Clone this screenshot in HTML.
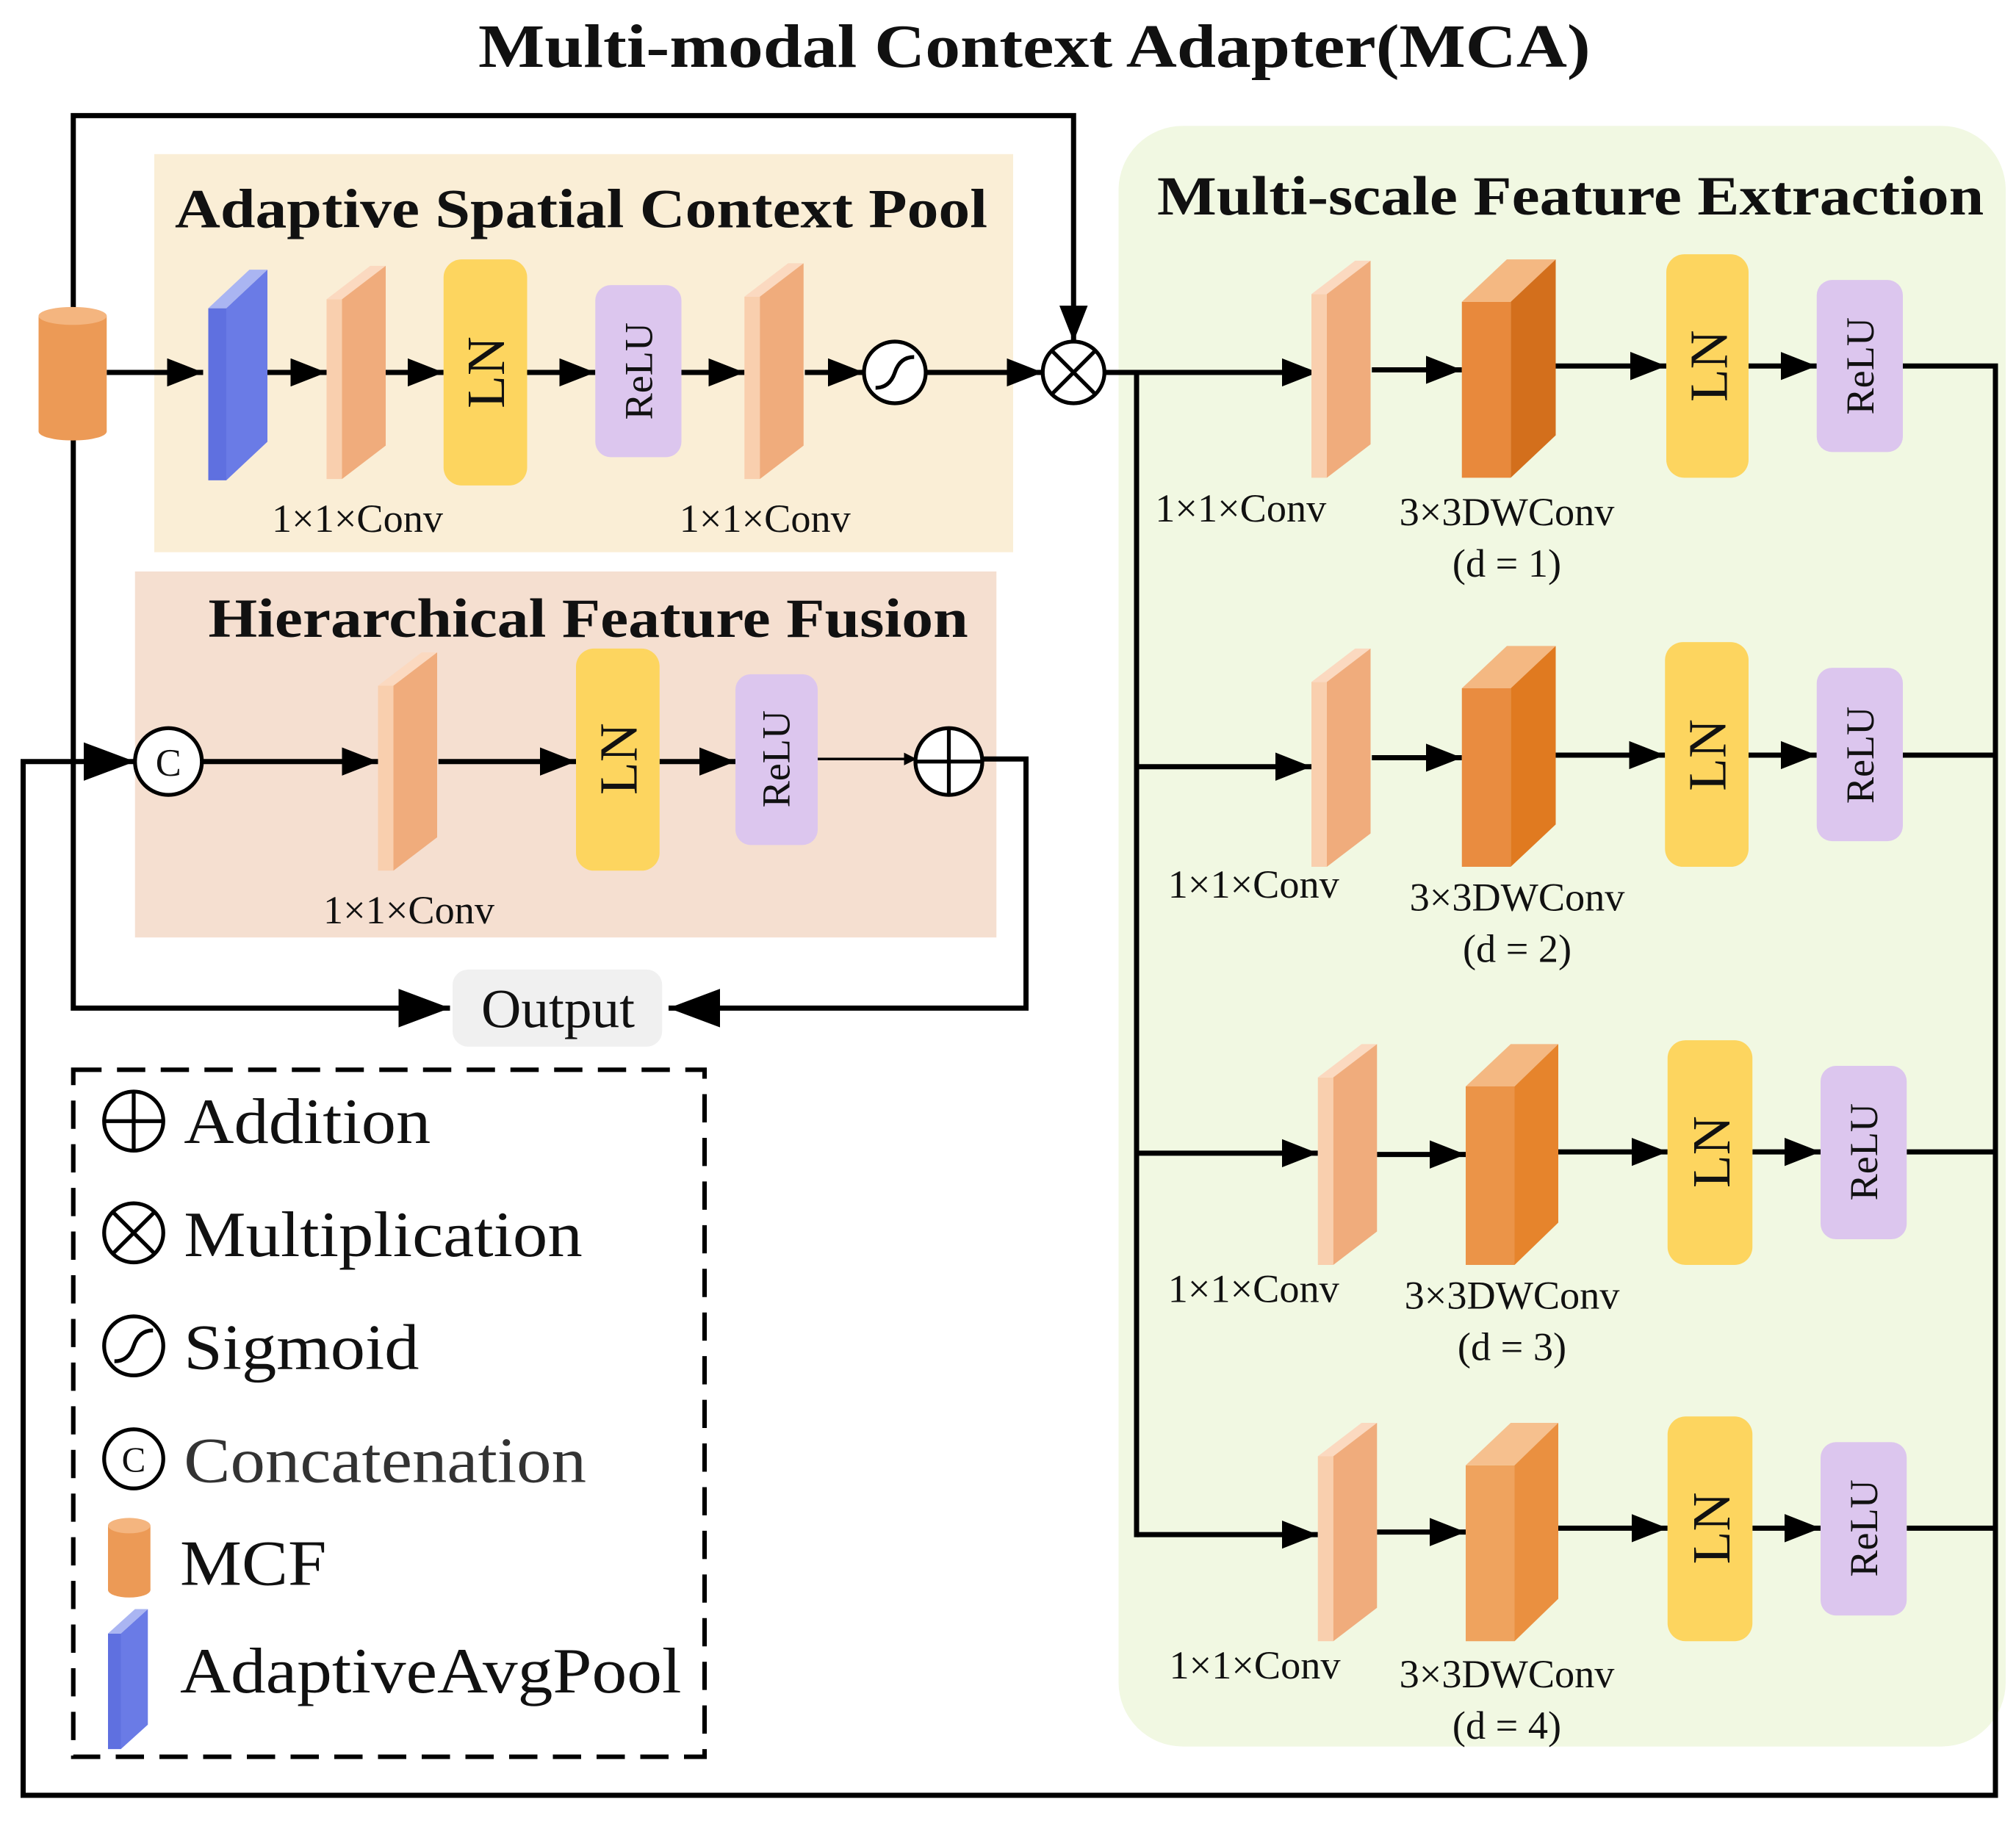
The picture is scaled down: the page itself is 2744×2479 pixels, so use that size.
<!DOCTYPE html>
<html><head><meta charset="utf-8"><style>
html,body{margin:0;padding:0;background:#fff}
svg{display:block}
text{font-family:"Liberation Serif",serif;fill:#111}
</style></head><body>
<svg width="2744" height="2479" viewBox="0 0 1568 1418" preserveAspectRatio="none" xmlns="http://www.w3.org/2000/svg">
<defs>
<marker id="a" markerWidth="10" markerHeight="10" refX="9" refY="5" orient="auto" markerUnits="userSpaceOnUse" viewBox="0 0 10 10">
<path d="M0,0 L10,5 L0,10 z" fill="#000"/></marker>
<marker id="b" markerWidth="40" markerHeight="30" refX="40" refY="15" orient="auto" markerUnits="userSpaceOnUse" viewBox="0 0 40 30">
<path d="M0,0 L40,15 L0,30 z" fill="#000"/></marker>
<marker id="s" markerWidth="28" markerHeight="22" refX="28" refY="11" orient="auto" markerUnits="userSpaceOnUse" viewBox="0 0 28 22">
<path d="M0,0 L28,11 L0,22 z" fill="#000"/></marker>
</defs>

<text x="372" y="52" font-size="48" font-weight="bold" textLength="865" lengthAdjust="spacingAndGlyphs">Multi-modal Context Adapter(MCA)</text>

<!-- backgrounds -->
<rect x="120" y="120" width="668" height="310" fill="#faeed6"/>
<rect x="105" y="445" width="670" height="285" fill="#f5dfd0"/>
<rect x="870" y="98" width="690" height="1262" rx="50" fill="#f1f8e2"/>

<text x="136" y="177" font-size="43" font-weight="bold" textLength="632" lengthAdjust="spacingAndGlyphs">Adaptive Spatial Context Pool</text>
<text x="162" y="496" font-size="43" font-weight="bold" textLength="591" lengthAdjust="spacingAndGlyphs">Hierarchical Feature Fusion</text>
<text x="900" y="167" font-size="43" font-weight="bold" textLength="643" lengthAdjust="spacingAndGlyphs">Multi-scale Feature Extraction</text>

<g stroke="#000" stroke-width="4" fill="none">
<polyline points="57,240 57,90 835,90 835,266" marker-end="url(#s)"/>
<polyline points="57,342 57,785 350,785" marker-end="url(#b)"/>
<polyline points="764,591 798,591 798,785 520,785" marker-end="url(#b)"/>
<polyline points="1480,285 1552,285 1552,1398 18,1398 18,593 105,593" marker-end="url(#b)"/>
<line x1="1480" y1="588" x2="1552" y2="588"/>
<line x1="1483" y1="897" x2="1552" y2="897"/>
<line x1="1483" y1="1190" x2="1552" y2="1190"/>
<line x1="83" y1="290" x2="158" y2="290" marker-end="url(#s)"/>
<line x1="208" y1="290" x2="254" y2="290" marker-end="url(#s)"/>
<line x1="300" y1="290" x2="345" y2="290" marker-end="url(#s)"/>
<line x1="410" y1="290" x2="463" y2="290" marker-end="url(#s)"/>
<line x1="530" y1="290" x2="579" y2="290" marker-end="url(#s)"/>
<line x1="626" y1="290" x2="672" y2="290" marker-end="url(#s)"/>
<line x1="720" y1="290" x2="811" y2="290" marker-end="url(#s)"/>
<line x1="157" y1="593" x2="294" y2="593" marker-end="url(#s)"/>
<line x1="341" y1="593" x2="448" y2="593" marker-end="url(#s)"/>
<line x1="513" y1="593" x2="572" y2="593" marker-end="url(#s)"/>
<line x1="636" y1="591" x2="712" y2="591" stroke-width="2" marker-end="url(#a)"/>
<line x1="859" y1="290" x2="1025" y2="290" marker-end="url(#s)"/>
<line x1="884" y1="290" x2="884" y2="1197"/>
<line x1="884" y1="597" x2="1020" y2="597" marker-end="url(#s)"/>
<line x1="884" y1="898" x2="1025" y2="898" marker-end="url(#s)"/>
<line x1="884" y1="1195" x2="1025" y2="1195" marker-end="url(#s)"/>
<line x1="1067" y1="288" x2="1137" y2="288" marker-end="url(#s)"/>
<line x1="1210" y1="285" x2="1296" y2="285" marker-end="url(#s)"/>
<line x1="1360" y1="285" x2="1413" y2="285" marker-end="url(#s)"/>
<line x1="1067" y1="590" x2="1137" y2="590" marker-end="url(#s)"/>
<line x1="1210" y1="588" x2="1295" y2="588" marker-end="url(#s)"/>
<line x1="1360" y1="588" x2="1413" y2="588" marker-end="url(#s)"/>
<line x1="1071" y1="899" x2="1140" y2="899" marker-end="url(#s)"/>
<line x1="1212" y1="897" x2="1297" y2="897" marker-end="url(#s)"/>
<line x1="1363" y1="897" x2="1416" y2="897" marker-end="url(#s)"/>
<line x1="1071" y1="1193" x2="1140" y2="1193" marker-end="url(#s)"/>
<line x1="1212" y1="1190" x2="1297" y2="1190" marker-end="url(#s)"/>
<line x1="1363" y1="1190" x2="1416" y2="1190" marker-end="url(#s)"/>
</g>

<g>
<rect x="30" y="246" width="53" height="90" fill="#ec9a56"/>
<ellipse cx="56.5" cy="336" rx="26.5" ry="7" fill="#ec9a56"/>
<ellipse cx="56.5" cy="246" rx="26.5" ry="7" fill="#f4b57f"/>
</g>
<polygon points="162,240 176,240 176,374 162,374" fill="#5f70e0"/>
<polygon points="176,240 208,210 208,344 176,374" fill="#6a7be6"/>
<polygon points="162,240 194,210 208,210 176,240" fill="#aab5f2"/>

<g>
<g transform="translate(254,207)">
<polygon points="0,26 12,26 12,166 0,166" fill="#f9cfae"/><polygon points="0,26 34,0 46,0 12,26" fill="#fbd9c0"/><polygon points="12,26 46,0 46,140 12,166" fill="#f0ac7c"/></g>
<g transform="translate(579,205)">
<polygon points="0,26 12,26 12,168 0,168" fill="#f9cfae"/><polygon points="0,26 34,0 46,0 12,26" fill="#fbd9c0"/><polygon points="12,26 46,0 46,142 12,168" fill="#f0ac7c"/></g>
<g transform="translate(294,508)">
<polygon points="0,26 12,26 12,170 0,170" fill="#f9cfae"/><polygon points="0,26 34,0 46,0 12,26" fill="#fbd9c0"/><polygon points="12,26 46,0 46,144 12,170" fill="#f0ac7c"/></g>
<g transform="translate(1020,203)">
<polygon points="0,26 12,26 12,169 0,169" fill="#f9cfae"/><polygon points="0,26 34,0 46,0 12,26" fill="#fbd9c0"/><polygon points="12,26 46,0 46,143 12,169" fill="#f0ac7c"/></g>
<g transform="translate(1020,505)">
<polygon points="0,26 12,26 12,170 0,170" fill="#f9cfae"/><polygon points="0,26 34,0 46,0 12,26" fill="#fbd9c0"/><polygon points="12,26 46,0 46,144 12,170" fill="#f0ac7c"/></g>
<g transform="translate(1025,813)">
<polygon points="0,26 12,26 12,172 0,172" fill="#f9cfae"/><polygon points="0,26 34,0 46,0 12,26" fill="#fbd9c0"/><polygon points="12,26 46,0 46,146 12,172" fill="#f0ac7c"/></g>
<g transform="translate(1025,1108)">
<polygon points="0,26 12,26 12,170 0,170" fill="#f9cfae"/><polygon points="0,26 34,0 46,0 12,26" fill="#fbd9c0"/><polygon points="12,26 46,0 46,144 12,170" fill="#f0ac7c"/></g>
</g>

<g transform="translate(1137,202)">
<polygon points="0,33 38,33 38,170 0,170" fill="#e8893c"/><polygon points="0,33 35,0 73,0 38,33" fill="#f4b882"/><polygon points="38,33 73,0 73,137 38,170" fill="#d36f1c"/></g>
<g transform="translate(1137,503)">
<polygon points="0,33 38,33 38,172 0,172" fill="#e98c40"/><polygon points="0,33 35,0 73,0 38,33" fill="#f4b882"/><polygon points="38,33 73,0 73,139 38,172" fill="#e07a20"/></g>
<g transform="translate(1140,813)">
<polygon points="0,33 38,33 38,172 0,172" fill="#eb9448"/><polygon points="0,33 35,0 72,0 38,33" fill="#f4b882"/><polygon points="38,33 72,0 72,139 38,172" fill="#e6842c"/></g>
<g transform="translate(1140,1108)">
<polygon points="0,33 38,33 38,170 0,170" fill="#efa35e"/><polygon points="0,33 35,0 72,0 38,33" fill="#f6c08e"/><polygon points="38,33 72,0 72,137 38,170" fill="#ea9040"/></g>

<g fill="#fdd55f">
<rect x="345" y="202" width="65" height="176" rx="14"/>
<rect x="448" y="505" width="65" height="173" rx="14"/>
<rect x="1296" y="198" width="64" height="174" rx="14"/>
<rect x="1295" y="500" width="65" height="175" rx="14"/>
<rect x="1297" y="810" width="66" height="175" rx="14"/>
<rect x="1297" y="1103" width="66" height="175" rx="14"/>
</g>
<g fill="#dcc6ee">
<rect x="463" y="222" width="67" height="134" rx="12"/>
<rect x="572" y="525" width="64" height="133" rx="12"/>
<rect x="1413" y="218" width="67" height="134" rx="12"/>
<rect x="1413" y="520" width="67" height="135" rx="12"/>
<rect x="1416" y="830" width="67" height="135" rx="12"/>
<rect x="1416" y="1123" width="67" height="135" rx="12"/>
</g>
<g font-size="42" text-anchor="middle">
<text transform="translate(392,290) rotate(-90)">LN</text>
<text transform="translate(495,591) rotate(-90)">LN</text>
<text transform="translate(1343,285) rotate(-90)">LN</text>
<text transform="translate(1342,588) rotate(-90)">LN</text>
<text transform="translate(1345,897) rotate(-90)">LN</text>
<text transform="translate(1345,1190) rotate(-90)">LN</text>
</g>
<g font-size="31" text-anchor="middle">
<text transform="translate(507,289) rotate(-90)">ReLU</text>
<text transform="translate(614,591) rotate(-90)">ReLU</text>
<text transform="translate(1457,285) rotate(-90)">ReLU</text>
<text transform="translate(1457,588) rotate(-90)">ReLU</text>
<text transform="translate(1460,897) rotate(-90)">ReLU</text>
<text transform="translate(1460,1190) rotate(-90)">ReLU</text>
</g>

<g stroke="#000" stroke-width="3" fill="#fff">
<circle cx="696" cy="290" r="24"/>
<circle cx="835" cy="290" r="24"/>
<circle cx="131" cy="593" r="26"/>
<circle cx="738" cy="593" r="26"/>
</g>
<g stroke="#000" stroke-width="3" fill="none">
<path d="M681,302 Q692,302 696,290 Q700,278 711,278"/>
<line x1="818" y1="273" x2="852" y2="307"/><line x1="852" y1="273" x2="818" y2="307"/>
<line x1="712" y1="593" x2="764" y2="593"/><line x1="738" y1="567" x2="738" y2="619"/>
</g>
<text x="131" y="604" font-size="30" text-anchor="middle">C</text>

<rect x="352" y="755" width="163" height="60" rx="12" fill="#f0f0f0"/>
<text x="434" y="800" font-size="43" text-anchor="middle">Output</text>

<g font-size="31" text-anchor="middle">
<text x="278" y="414">1×1×Conv</text>
<text x="595" y="414">1×1×Conv</text>
<text x="318" y="719">1×1×Conv</text>
<text x="965" y="406">1×1×Conv</text>
<text x="1172" y="409">3×3DWConv</text>
<text x="1172" y="449">(d = 1)</text>
<text x="975" y="699">1×1×Conv</text>
<text x="1180" y="709">3×3DWConv</text>
<text x="1180" y="749">(d = 2)</text>
<text x="975" y="1014">1×1×Conv</text>
<text x="1176" y="1019">3×3DWConv</text>
<text x="1176" y="1059">(d = 3)</text>
<text x="976" y="1307">1×1×Conv</text>
<text x="1172" y="1314">3×3DWConv</text>
<text x="1172" y="1354">(d = 4)</text>
</g>

<rect x="57" y="833" width="491" height="535" fill="none" stroke="#000" stroke-width="3.5" stroke-dasharray="22 12"/>
<g stroke="#000" stroke-width="3" fill="#fff">
<circle cx="104" cy="873" r="23"/>
<circle cx="104" cy="960" r="23"/>
<circle cx="104" cy="1048" r="23"/>
<circle cx="104" cy="1136" r="23"/>
</g>
<g stroke="#000" stroke-width="3" fill="none">
<line x1="81" y1="873" x2="127" y2="873"/><line x1="104" y1="850" x2="104" y2="896"/>
<line x1="88" y1="944" x2="120" y2="976"/><line x1="120" y1="944" x2="88" y2="976"/>
<path d="M89,1060 Q100,1060 104,1048 Q108,1036 119,1036"/>
</g>
<text x="104" y="1146" font-size="28" text-anchor="middle">C</text>
<rect x="84" y="1188" width="33" height="50" fill="#ec9a56"/>
<ellipse cx="100.5" cy="1238" rx="16.5" ry="6" fill="#ec9a56"/>
<ellipse cx="100.5" cy="1188" rx="16.5" ry="6" fill="#f4b57f"/>
<polygon points="84,1272 94,1272 94,1362 84,1362" fill="#5f70e0"/>
<polygon points="94,1272 115,1253 115,1343 94,1362" fill="#6a7be6"/>
<polygon points="84,1272 105,1253 115,1253 94,1272" fill="#aab5f2"/>
<g font-size="50">
<text x="143" y="890" textLength="192" lengthAdjust="spacingAndGlyphs">Addition</text>
<text x="143" y="978" textLength="310" lengthAdjust="spacingAndGlyphs">Multiplication</text>
<text x="143" y="1066" textLength="183" lengthAdjust="spacingAndGlyphs">Sigmoid</text>
<text x="143" y="1154" textLength="313" lengthAdjust="spacingAndGlyphs" style="fill:#333">Concatenation</text>
<text x="140" y="1234" textLength="114" lengthAdjust="spacingAndGlyphs">MCF</text>
<text x="140" y="1318" textLength="390" lengthAdjust="spacingAndGlyphs">AdaptiveAvgPool</text>
</g>
</svg>
</body></html>
